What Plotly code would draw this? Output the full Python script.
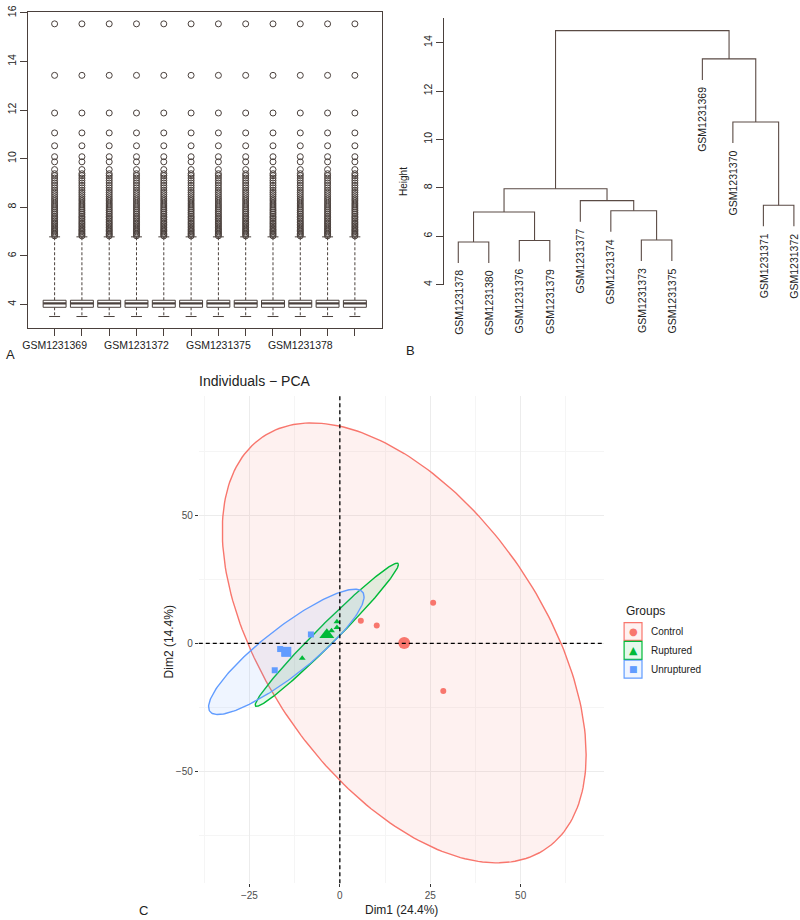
import numpy as np
import plotly.graph_objects as go

W, H = 800, 920
FONT = "Liberation Sans, Arial, sans-serif"
INK = "#4a403c"
TXT = "#222222"


def px(x):
    return x / W


def py(y):
    return 1 - y / H


# ---------------- panel A: boxplot of expression per sample
samples = ['GSM1231369', 'GSM1231370', 'GSM1231371', 'GSM1231372', 'GSM1231373', 'GSM1231374',
           'GSM1231375', 'GSM1231376', 'GSM1231377', 'GSM1231378', 'GSM1231379', 'GSM1231380']
q1 = [3.88, 3.88, 3.88, 3.88, 3.88, 3.88, 3.88, 3.88, 3.88, 3.88, 3.88, 3.88]
med = [4.04, 4.04, 4.04, 4.04, 4.04, 4.04, 4.04, 4.04, 4.04, 4.04, 4.04, 4.04]
q3 = [4.17, 4.17, 4.17, 4.17, 4.17, 4.17, 4.17, 4.17, 4.17, 4.17, 4.17, 4.17]
lo_whisk = [3.5, 3.5, 3.5, 3.5, 3.5, 3.5, 3.5, 3.5, 3.5, 3.5, 3.5, 3.5]
hi_whisk = [6.78, 6.78, 6.78, 6.78, 6.78, 6.78, 6.78, 6.78, 6.78, 6.78, 6.78, 6.78]
# outliers (same for every sample after normalisation)
outliers = [6.82, 6.88, 6.93, 6.99, 7.05, 7.1, 7.17, 7.23, 7.3, 7.36, 7.43, 7.5, 7.57, 7.63,
            7.71, 7.78, 7.86, 7.93, 8.01, 8.09, 8.17, 8.26, 8.34, 8.43, 8.52, 8.61, 8.7, 8.8,
            8.9, 9.0, 9.1, 9.2, 9.3, 9.38, 9.55, 9.87, 10.08, 10.53, 11.06, 11.88, 13.43, 15.55]

# ---------------- panel B: hierarchical clustering
leaves = ['GSM1231378', 'GSM1231380', 'GSM1231376', 'GSM1231379', 'GSM1231377', 'GSM1231374',
          'GSM1231373', 'GSM1231375', 'GSM1231369', 'GSM1231370', 'GSM1231371', 'GSM1231372']
# R-style merge table: negative = leaf (1-based in leaf order), positive = earlier merge row
merge_a = [-1, -3, 1, -7, -6, -5, 3, -11, -10, -9, 7]
merge_b = [-2, -4, 2, -8, 4, 5, 6, -12, 8, 9, 10]
merge_h = [5.76, 5.82, 7.00, 5.84, 7.05, 7.47, 7.96, 7.28, 10.72, 13.33, 14.50]
hang = 0.87

# ---------------- panel C: PCA individuals
groups = ['Control', 'Ruptured', 'Unruptured']
colors = ['#F8766D', '#00BA38', '#619CFF']
fills = ['rgba(248,118,109,0.1)', 'rgba(0,186,56,0.1)', 'rgba(97,156,255,0.1)']
symbols = ['circle', 'triangle-up', 'square']
ctrl_x = [5.8, 10.2, 25.8, 28.6]
ctrl_y = [8.9, 7.0, 15.9, -18.6]
rupt_x = [-10.4, -2.3, -0.8, -0.8]
rupt_y = [-5.8, 5.0, 6.2, 8.5]
unrupt_x = [-8.0, -16.5, -15.3, -18.0]
unrupt_y = [3.5, -2.2, -3.8, -10.5]
center_x = [17.8, -3.6, -14.8]
center_y = [0.2, 3.4, -3.3]
# ellipse covariance (data units)
ell_sxx = [2530, 392, 462]
ell_syy = [7396, 784, 600]
ell_sxy = [-2200, 544, 463]

fig = go.Figure()

# ---- A
bw, sw = 0.42, 0.2
bx, by, mx, my, wx, wy, sx, sy = [], [], [], [], [], [], [], []
for i in range(len(samples)):
    c = i + 1
    bx += [c - bw, c + bw, c + bw, c - bw, c - bw, None]
    by += [q1[i], q1[i], q3[i], q3[i], q1[i], None]
    mx += [c - bw, c + bw, None]
    my += [med[i], med[i], None]
    wx += [c, c, None, c, c, None]
    wy += [q3[i], hi_whisk[i], None, q1[i], lo_whisk[i], None]
    sx += [c - sw, c + sw, None, c - sw, c + sw, None]
    sy += [hi_whisk[i], hi_whisk[i], None, lo_whisk[i], lo_whisk[i], None]

fig.add_trace(go.Scatter(x=wx, y=wy, mode='lines', line=dict(color=INK, width=1, dash='3px,2px'),
                         xaxis='x', yaxis='y', hoverinfo='skip'))
fig.add_trace(go.Scatter(x=sx, y=sy, mode='lines', line=dict(color=INK, width=1),
                         xaxis='x', yaxis='y', hoverinfo='skip'))
fig.add_trace(go.Scatter(x=bx, y=by, mode='lines', fill='toself', fillcolor='white',
                         line=dict(color=INK, width=1), xaxis='x', yaxis='y', hoverinfo='skip'))
fig.add_trace(go.Scatter(x=mx, y=my, mode='lines', line=dict(color=INK, width=2.4),
                         xaxis='x', yaxis='y', hoverinfo='skip'))
ox, oy = [], []
for i in range(len(samples)):
    ox += [i + 1] * len(outliers)
    oy += outliers
fig.add_trace(go.Scatter(x=ox, y=oy, mode='markers',
                         marker=dict(symbol='circle-open', size=6, color=INK, line=dict(width=1)),
                         xaxis='x', yaxis='y', hoverinfo='skip'))

# ---- B
node_x, node_h = {}, {}
dx, dy = [], []
leaf_end = {}
for r in range(len(merge_h)):
    h = merge_h[r]
    ends = []
    for m in (merge_a[r], merge_b[r]):
        if m < 0:
            x0 = -m
            y0 = h - hang
            leaf_end[-m - 1] = y0
        else:
            x0 = node_x[m]
            y0 = node_h[m]
        ends.append((x0, y0))
    (xa, ya), (xb, yb) = ends
    dx += [xa, xa, xb, xb, None]
    dy += [ya, h, h, yb, None]
    node_x[r + 1] = (xa + xb) / 2
    node_h[r + 1] = h

fig.add_trace(go.Scatter(x=dx, y=dy, mode='lines', line=dict(color='#5a4a44', width=1.1),
                         xaxis='x2', yaxis='y2', hoverinfo='skip', cliponaxis=False))

annotations = []
for i, lab in enumerate(leaves):
    annotations.append(dict(x=i + 1, y=leaf_end[i], xref='x2', yref='y2', text=lab,
                            textangle=-90, showarrow=False, xanchor='center', yanchor='top',
                            yshift=-5, font=dict(size=10.5, color=TXT, family=FONT)))

# ---- C
t = np.linspace(0, 2 * np.pi, 241)
for k in range(3):
    L = np.linalg.cholesky(np.array([[ell_sxx[k], ell_sxy[k]], [ell_sxy[k], ell_syy[k]]]))
    ex = center_x[k] + L[0, 0] * np.cos(t)
    ey = center_y[k] + L[1, 0] * np.cos(t) + L[1, 1] * np.sin(t)
    fig.add_trace(go.Scatter(x=ex, y=ey, mode='lines', fill='toself', fillcolor=fills[k],
                             line=dict(color=colors[k], width=1.4), xaxis='x3', yaxis='y3',
                             hoverinfo='skip'))

pts = [(ctrl_x, ctrl_y), (rupt_x, rupt_y), (unrupt_x, unrupt_y)]
small = [6, 6, 6]
big = [12, 13, 10]
for k in range(3):
    fig.add_trace(go.Scatter(x=pts[k][0], y=pts[k][1], mode='markers',
                             marker=dict(symbol=symbols[k], size=small[k], color=colors[k]),
                             xaxis='x3', yaxis='y3', name=groups[k]))
    fig.add_trace(go.Scatter(x=[center_x[k]], y=[center_y[k]], mode='markers',
                             marker=dict(symbol=symbols[k], size=big[k], color=colors[k]),
                             xaxis='x3', yaxis='y3', hoverinfo='skip'))

shapes = [
    dict(type='line', xref='x3', yref='y3 domain', x0=0, x1=0, y0=0, y1=1,
         line=dict(color='black', width=1.3, dash='4px,3px'), layer='above'),
    dict(type='line', xref='x3 domain', yref='y3', x0=0, x1=1, y0=0, y1=0,
         line=dict(color='black', width=1.3, dash='4px,3px'), layer='above'),
]

# legend drawn by hand (ggplot style keys)
glyph = ['\u25cf', '\u25b2', '\u25a0']
gsize = [10, 11, 9]
annotations.append(dict(x=px(623), y=py(609), xref='paper', yref='paper', text='Groups',
                        showarrow=False, xanchor='left', yanchor='middle',
                        font=dict(size=12, color=TXT, family=FONT)))
for k in range(3):
    cy = 630 + 19 * k
    shapes.append(dict(type='rect', xref='paper', yref='paper', x0=px(623), x1=px(641),
                       y0=py(cy + 9), y1=py(cy - 9), line=dict(color=colors[k], width=1.2),
                       fillcolor=fills[k]))
    annotations.append(dict(x=px(632), y=py(cy), xref='paper', yref='paper', text=glyph[k],
                            showarrow=False, xanchor='center', yanchor='middle',
                            font=dict(size=gsize[k], color=colors[k], family='DejaVu Sans')))
    annotations.append(dict(x=px(648), y=py(cy), xref='paper', yref='paper', text=groups[k],
                            showarrow=False, xanchor='left', yanchor='middle',
                            font=dict(size=10, color=TXT, family=FONT)))

# titles and panel letters
annotations += [
    dict(x=px(193), y=py(377), xref='paper', yref='paper', text='Individuals \u2212 PCA',
         showarrow=False, xanchor='left', yanchor='middle', font=dict(size=14, color=TXT, family=FONT)),
    dict(x=px(399), y=py(911), xref='paper', yref='paper', text='Dim1 (24.4%)',
         showarrow=False, xanchor='center', yanchor='middle', font=dict(size=12, color=TXT, family=FONT)),
    dict(x=px(165), y=py(640), xref='paper', yref='paper', text='Dim2 (14.4%)', textangle=-90,
         showarrow=False, xanchor='center', yanchor='middle', font=dict(size=12, color=TXT, family=FONT)),
    dict(x=px(401), y=py(176), xref='paper', yref='paper', text='Height', textangle=-90,
         showarrow=False, xanchor='center', yanchor='middle', font=dict(size=10, color=TXT, family=FONT)),
    dict(x=px(6), y=py(351), xref='paper', yref='paper', text='A', showarrow=False,
         xanchor='center', yanchor='middle', font=dict(size=13, color=TXT, family=FONT)),
    dict(x=px(408), y=py(347), xref='paper', yref='paper', text='B', showarrow=False,
         xanchor='center', yanchor='middle', font=dict(size=13, color=TXT, family=FONT)),
    dict(x=px(139), y=py(911), xref='paper', yref='paper', text='C', showarrow=False,
         xanchor='center', yanchor='middle', font=dict(size=13, color=TXT, family=FONT)),
]

tickfont = dict(size=10.5, color=TXT, family=FONT)
fig.update_layout(
    width=W, height=H, margin=dict(l=0, r=0, t=0, b=0),
    paper_bgcolor='white', plot_bgcolor='white', showlegend=False,
    font=dict(family=FONT, color=TXT),
    xaxis=dict(domain=[px(23), px(379)], range=[0.02, 12.98], anchor='y',
               tickmode='array', tickvals=list(range(1, 13)),
               ticktext=[s if i % 3 == 0 else '' for i, s in enumerate(samples)],
               ticks='outside', ticklen=7, tickcolor=INK, showline=True, mirror=True,
               linecolor=INK, linewidth=1, showgrid=False, zeroline=False, tickfont=tickfont),
    yaxis=dict(domain=[py(324), py(5)], range=[3.02, 16.04], anchor='x',
               tickmode='array', tickvals=[4, 6, 8, 10, 12, 14, 16], tickangle=-90,
               ticklabeloverflow='allow',
               ticks='outside', ticklen=7, tickcolor=INK, showline=True, mirror=True,
               linecolor=INK, linewidth=1, showgrid=False, zeroline=False, tickfont=tickfont),
    xaxis2=dict(domain=[px(442), 1.0], range=[0.54, 12.2], anchor='y2', visible=False),
    yaxis2=dict(domain=[py(280), py(11.6)], range=[4, 15], anchor='x2',
                tickmode='array', tickvals=[4, 6, 8, 10, 12, 14], tickangle=-90,
                ticks='outside', ticklen=7, tickcolor=INK, showline=True, linecolor=INK,
                linewidth=1, showgrid=False, zeroline=False, tickfont=tickfont),
    xaxis3=dict(domain=[px(195), px(603)], range=[-39.0, 73.1], anchor='y3',
                tickmode='linear', tick0=0, dtick=25, ticks='outside', ticklen=3,
                tickcolor='#333333', showgrid=True, gridcolor='#ECECEC', gridwidth=1,
                minor=dict(dtick=12.5, tick0=0, showgrid=True, gridcolor='#F5F5F5', ticks=''),
                zeroline=False, showline=False,
                tickfont=dict(size=10, color='#4d4d4d', family=FONT)),
    yaxis3=dict(domain=[py(884), py(392)], range=[-93.8, 96.9], anchor='x3',
                tickmode='linear', tick0=0, dtick=50, ticks='outside', ticklen=3,
                tickcolor='#333333', showgrid=True, gridcolor='#ECECEC', gridwidth=1,
                minor=dict(dtick=25, tick0=0, showgrid=True, gridcolor='#F5F5F5', ticks=''),
                zeroline=False, showline=False,
                tickfont=dict(size=10, color='#4d4d4d', family=FONT)),
    shapes=shapes, annotations=annotations,
)

# the page body has a default 8px margin; drop it so the figure sits at the window corner
fig.write_html("out.html", config={'displayModeBar': False},
               post_script="document.body.style.margin='0';")
